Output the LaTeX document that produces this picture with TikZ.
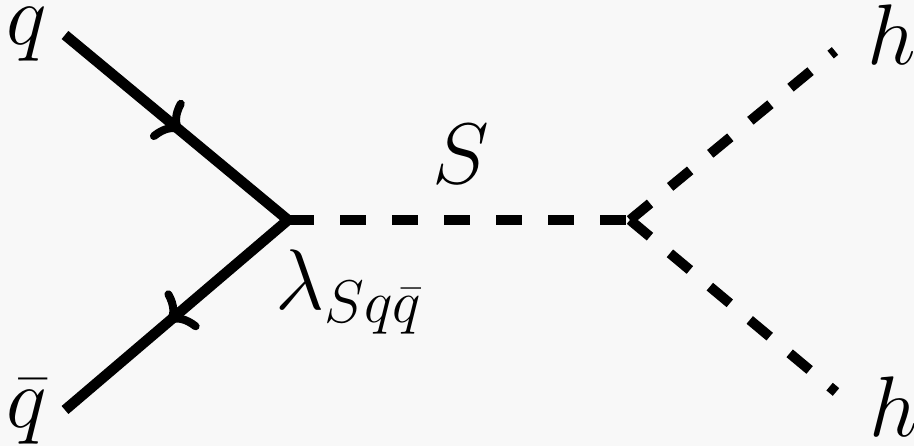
\RequirePackage{fix-cm}
\documentclass[tikz,border=0pt]{standalone}
\usetikzlibrary{arrows.meta,decorations.markings}
\definecolor{bgcol}{RGB}{248,248,248}
\begin{document}
\begin{tikzpicture}[x=1pt,y=1pt,
  lbl/.style={inner sep=0pt,font=\fontsize{86}{100}\selectfont},
  fermion/.style={line width=10.5pt,line join=miter,
    postaction={decorate},
    decoration={markings,
      mark=at position 151pt with {\arrow{Computer Modern Rightarrow[length=22pt,width=50pt,line width=8pt]}},
      mark=at position 447pt with {\arrow{Computer Modern Rightarrow[length=22pt,width=50pt,line width=8pt]}}}},
  scalar/.style={line width=10pt,dash pattern=on 26pt off 26pt}]
\fill[bgcol] (0,0) rectangle (914,446);
\useasboundingbox (0,0) rectangle (914,446);
\coordinate (a) at (65,411);
\coordinate (v) at (288,226);
\coordinate (b) at (65,36);
\coordinate (w) at (630,226);
\coordinate (h1) at (835,395);
\coordinate (h2) at (836,54);
\draw[scalar] (v) -- (w);
\draw[scalar] (w) -- (h1);
\draw[scalar] (w) -- (h2);
\draw[fermion] (a) -- (v) -- (b);
\node[lbl,anchor=base west] (lq) at (6,401) {$q$};
\node[lbl,anchor=base west] (lqb) at (6,18) {$\bar q$};
\node[lbl,anchor=base west] (lh1) at (867,381) {$h$};
\node[lbl,anchor=base west] (lh2) at (869,9) {$h$};
\node[lbl,anchor=base] (lS) at (461,262) {$S$};
\node[lbl,anchor=base west] (ll) at (275,136) {$\lambda_{Sq\bar q}$};
\end{tikzpicture}
\end{document}
